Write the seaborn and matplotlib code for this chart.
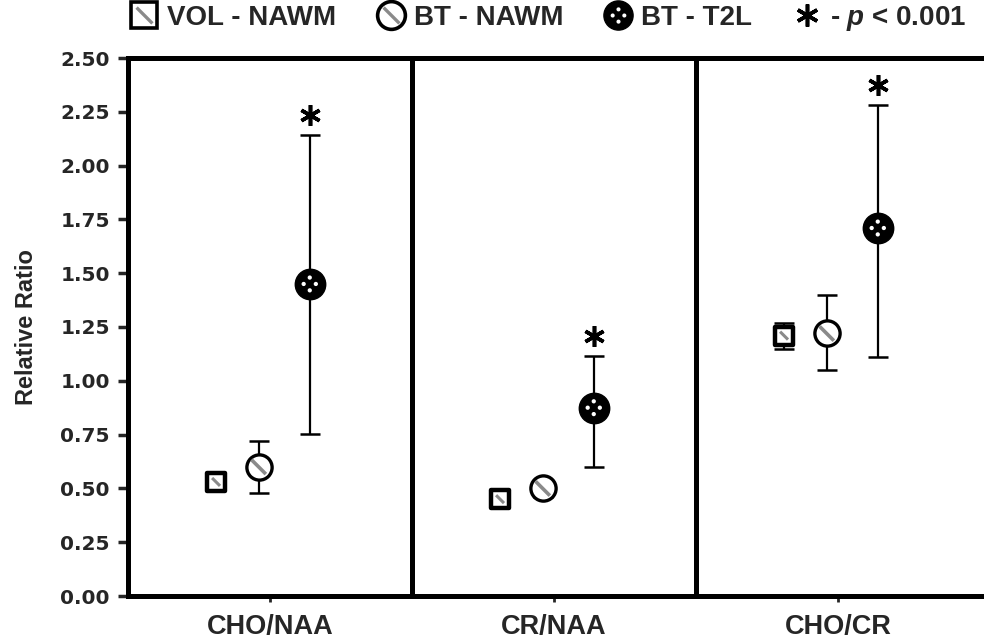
import numpy as np
import pandas as pd
import matplotlib
matplotlib.use("Agg")
import matplotlib.pyplot as plt
import seaborn as sns
from matplotlib.lines import Line2D
from matplotlib.path import Path
import matplotlib.transforms as mtrans

# ---------------- data ----------------
categories = ["CHO/NAA", "CR/NAA", "CHO/CR"]
groups = ["VOL - NAWM", "BT - NAWM", "BT - T2L"]
vol_nawm_mean = [0.53, 0.45, 1.21]
vol_nawm_low = [0.51, 0.43, 1.15]
vol_nawm_high = [0.55, 0.47, 1.27]
bt_nawm_mean = [0.60, 0.50, 1.22]
bt_nawm_low = [0.48, 0.46, 1.05]
bt_nawm_high = [0.72, 0.53, 1.40]
bt_t2l_mean = [1.45, 0.875, 1.71]
bt_t2l_low = [0.755, 0.60, 1.11]
bt_t2l_high = [2.14, 1.115, 2.28]
t2l_significant = [True, True, True]
yticks = [0.0, 0.25, 0.5, 0.75, 1.0, 1.25, 1.5, 1.75, 2.0, 2.25, 2.5]

rows = []
for gi, (g, m, lo, hi) in enumerate(zip(
        groups,
        [vol_nawm_mean, bt_nawm_mean, bt_t2l_mean],
        [vol_nawm_low, bt_nawm_low, bt_t2l_low],
        [vol_nawm_high, bt_nawm_high, bt_t2l_high])):
    for ci, c in enumerate(categories):
        rows.append(dict(group=g, gi=gi, category=c, ci=ci,
                         mean=m[ci], low=lo[ci], high=hi[ci]))
df = pd.DataFrame(rows)
offsets = {0: -0.19, 1: -0.04, 2: 0.14}
df["x"] = df["ci"] + df["gi"].map(offsets)

# ---------------- style ----------------
sns.set_theme(style="white")
plt.rcParams["font.family"] = ["Liberation Sans", "DejaVu Sans"]
plt.rcParams["font.weight"] = "bold"
plt.rcParams["mathtext.fontset"] = "custom"
plt.rcParams["mathtext.it"] = "Liberation Sans:italic:bold"
plt.rcParams["mathtext.rm"] = "Liberation Sans:bold"

W, H = 984, 641
fig = plt.figure(figsize=(W / 100, H / 100), dpi=100)
ax = fig.add_axes([128 / W, 45 / H, 858 / W, 538 / H])

# marker helper paths (bounding MOVETOs keep the scale fixed)
def bounded(*subpaths):
    frame = Path([(-1, -1), (1, 1)], [Path.MOVETO, Path.MOVETO])
    return Path.make_compound_path(frame, *subpaths)

dot = Path.unit_circle()
dots_path = bounded(*[dot.transformed(mtrans.Affine2D().scale(0.14).translate(dx, dy))
                      for dx, dy in [(0, 0.42), (-0.4, 0), (0.4, 0), (0, -0.42)]])
diag_path = bounded(Path([(-0.6, 0.6), (0.6, -0.6)], [Path.MOVETO, Path.LINETO]))

# error bars
for gi, sub in df.groupby("gi"):
    yerr = np.vstack([sub["mean"] - sub["low"], sub["high"] - sub["mean"]])
    ax.errorbar(sub["x"], sub["mean"], yerr=yerr, fmt="none", ecolor="black",
                elinewidth=1.6, capsize=7, capthick=1.8, zorder=2)

# markers
d0 = df[df.gi == 0]
d1 = df[df.gi == 1]
d2 = df[df.gi == 2]
sns.scatterplot(data=d0, x="x", y="mean", marker="s", s=170, color="white",
                edgecolor="black", linewidth=3.2, ax=ax, zorder=3, legend=False)
sns.scatterplot(data=d0, x="x", y="mean", marker=diag_path, s=90, color="none",
                edgecolor="#8a8a8a", linewidth=2.2, ax=ax, zorder=4, legend=False)
sns.scatterplot(data=d1, x="x", y="mean", marker="o", s=330, color="white",
                edgecolor="black", linewidth=2.4, ax=ax, zorder=3, legend=False)
sns.scatterplot(data=d1, x="x", y="mean", marker=diag_path, s=300, color="none",
                edgecolor="#8a8a8a", linewidth=2.6, ax=ax, zorder=4, legend=False)
sns.scatterplot(data=d2, x="x", y="mean", marker="o", s=480, color="black",
                edgecolor="black", linewidth=1, ax=ax, zorder=3, legend=False)
sns.scatterplot(data=d2, x="x", y="mean", marker=dots_path, s=480, color="white",
                edgecolor="none", linewidth=0, ax=ax, zorder=4, legend=False)

# significance stars
star_shift = ax.transData + mtrans.ScaledTranslation(0, 20 / 100, fig.dpi_scale_trans)
for _, r in d2.iterrows():
    if t2l_significant[r["ci"]]:
        ax.plot([r["x"]], [r["high"]], linestyle="none", marker=(6, 2, 0),
                markersize=15, markeredgewidth=2.6, color="black", zorder=5,
                transform=star_shift)

# panel separators
for b in [0.5, 1.5]:
    ax.axvline(b, color="black", linewidth=3.6, zorder=1)

ax.set_xlim(-0.5, 2.5 + 6 / 284)
ax.set_ylim(0, 2.5)
ax.set_yticks(yticks)
ax.set_yticklabels([f"{t:.2f}" for t in yticks], fontfamily="DejaVu Sans",
                   fontweight="bold", fontsize=14.5)
ax.set_xticks(range(len(categories)))
ax.set_xticklabels(categories, fontsize=19.5, fontweight="bold")
ax.tick_params(axis="y", direction="out", length=7, width=2.5, pad=6, left=True)
ax.tick_params(axis="x", direction="out", length=4, width=2, pad=9, bottom=True)
ax.set_xlabel("")
ax.set_ylabel("Relative Ratio", fontsize=17, fontweight="bold", labelpad=16)
for s in ["left", "top", "bottom"]:
    ax.spines[s].set_visible(True)
    ax.spines[s].set_linewidth(3.6)
    ax.spines[s].set_color("black")
ax.spines["right"].set_visible(False)

# legend
h_sq = Line2D([], [], linestyle="none", marker="s", markersize=19,
              markerfacecolor="white", markeredgecolor="black", markeredgewidth=2.6)
h_sq_d = Line2D([], [], linestyle="none", marker=diag_path, markersize=19,
                markerfacecolor="none", markeredgecolor="#8a8a8a", markeredgewidth=2.4)
h_ci = Line2D([], [], linestyle="none", marker="o", markersize=20,
              markerfacecolor="white", markeredgecolor="black", markeredgewidth=2.6)
h_ci_d = Line2D([], [], linestyle="none", marker=diag_path, markersize=19,
                markerfacecolor="none", markeredgecolor="#8a8a8a", markeredgewidth=2.4)
h_fc = Line2D([], [], linestyle="none", marker="o", markersize=21,
              markerfacecolor="black", markeredgecolor="black")
h_fc_d = Line2D([], [], linestyle="none", marker=dots_path, markersize=21,
                markerfacecolor="white", markeredgecolor="none")
h_st = Line2D([], [], linestyle="none", marker=(6, 2, 0), markersize=16,
              markeredgewidth=2.6, color="black")
leg = fig.legend([(h_sq, h_sq_d), (h_ci, h_ci_d), (h_fc, h_fc_d), h_st],
                 groups + ["- $p$ < 0.001"],
                 loc="upper center", bbox_to_anchor=(0.557, 1.02), ncol=4,
                 frameon=False, fontsize=20, handlelength=1.0,
                 handletextpad=0.35, columnspacing=1.45, borderaxespad=0.2)
for t in leg.get_texts():
    t.set_fontweight("bold")

fig.savefig("out.png", dpi=100)
